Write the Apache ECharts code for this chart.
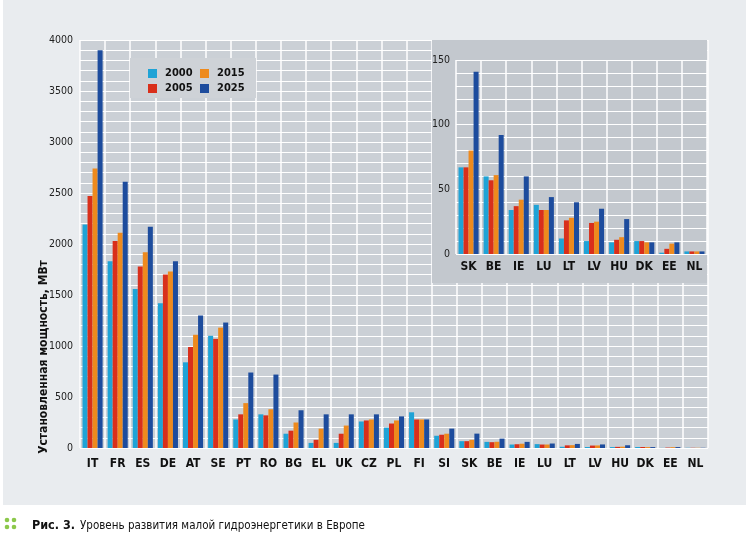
<!DOCTYPE html>
<html>
<head>
<meta charset="utf-8">
<script src="https://cdn.jsdelivr.net/npm/echarts@6/dist/echarts.min.js"></script>
<style>
  html, body { margin: 0; padding: 0; background: #fff; }
  #chart { width: 746px; height: 542px; }
</style>
</head>
<body>
<div id="chart"></div>
<script>
// страны и значения, МВт
var countries = ['IT', 'FR', 'ES', 'DE', 'AT', 'SE', 'PT', 'RO', 'BG', 'EL', 'UK', 'CZ', 'PL', 'FI', 'SI',
  'SK', 'BE', 'IE', 'LU', 'LT', 'LV', 'HU', 'DK', 'EE', 'NL']
var v2000 = [2190, 1830, 1560, 1420, 840, 1100, 280, 330, 140, 50, 50, 260, 200, 350, 120,
  67, 60, 34, 38, 12, 10, 9, 10, 1, 2]
var v2005 = [2470, 2030, 1780, 1700, 990, 1070, 330, 320, 170, 80, 140, 270, 240, 280, 130,
  67, 57, 37, 34, 26, 24, 11, 10, 4, 2]
var v2015 = [2740, 2110, 1920, 1730, 1110, 1180, 440, 380, 250, 190, 220, 280, 270, 280, 140,
  80, 61, 42, 34, 28, 25, 13, 9, 8, 2]
var v2025 = [3900, 2610, 2170, 1830, 1300, 1230, 740, 720, 370, 330, 330, 330, 310, 280, 190,
  141, 92, 60, 44, 40, 35, 27, 9, 9, 2]
var years = ['2000', '2005', '2015', '2025']
var colors = ['#1fa3d6', '#d92f1b', '#ee8a1d', '#1d4c9d']

// врезка — страны с малой мощностью
var insetFrom = 15
var insetCountries = countries.slice(insetFrom)

var cond = "'Liberation Sans Narrow', 'DejaVu Sans Condensed', sans-serif"
var chart = echarts.init(document.getElementById('chart'))

var allData = [v2000, v2005, v2015, v2025]
var series = []
allData.forEach(function (d, i) {
  series.push({
    name: years[i],
    type: 'bar',
    xAxisIndex: 0,
    yAxisIndex: 0,
    barGap: '0%',
    barCategoryGap: '20%',
    itemStyle: { color: colors[i] },
    data: d
  })
})
allData.forEach(function (d, i) {
  series.push({
    name: years[i],
    type: 'bar',
    xAxisIndex: 1,
    yAxisIndex: 1,
    z: 13,
    barGap: '0%',
    barCategoryGap: '20%',
    itemStyle: { color: colors[i] },
    data: d.slice(insetFrom)
  })
})

var legendText = { fontFamily: cond, fontWeight: 'bold', fontSize: 11, color: '#111', padding: [0, 0, 0, 3] }
var xLabel = { fontFamily: cond, fontWeight: 'bold', fontSize: 12, color: '#111', interval: 0 }

var option = {
  backgroundColor: '#e9ecef',
  animation: false,
  title: {
    left: 27,
    top: 512,
    text: '{b|Рис. 3.} {n|Уровень развития малой гидроэнергетики в Европе}',
    textStyle: {
      rich: {
        b: { fontFamily: cond, fontWeight: 'bold', fontSize: 12.5, color: '#111' },
        n: { fontFamily: cond, fontWeight: 'normal', fontSize: 11.5, color: '#111' }
      }
    }
  },
  legend: [
    {
      data: ['2000', '2005'],
      orient: 'vertical',
      left: 143,
      top: 63,
      z: 20,
      icon: 'rect',
      itemWidth: 9,
      itemHeight: 9,
      itemGap: 4,
      textStyle: legendText
    },
    {
      data: ['2015', '2025'],
      orient: 'vertical',
      left: 195,
      top: 63,
      z: 20,
      icon: 'rect',
      itemWidth: 9,
      itemHeight: 9,
      itemGap: 4,
      textStyle: legendText
    }
  ],
  grid: [
    { left: 80, top: 40, width: 628, height: 408, show: true, backgroundColor: '#cbd0d6', borderWidth: 0 },
    { left: 456, top: 60, width: 251, height: 194 }
  ],
  xAxis: [
    {
      type: 'category',
      gridIndex: 0,
      data: countries,
      axisLine: { show: false },
      axisTick: { show: false },
      axisLabel: Object.assign({ margin: 10 }, xLabel),
      splitLine: { show: true, interval: 0, lineStyle: { color: '#fff', width: 1.5 } }
    },
    {
      type: 'category',
      gridIndex: 1,
      z: 12,
      data: insetCountries,
      axisLine: { show: false },
      axisTick: { show: false },
      axisLabel: Object.assign({ margin: 7 }, xLabel),
      splitLine: { show: true, interval: 0, lineStyle: { color: '#fff', width: 1.5 } }
    }
  ],
  yAxis: [
    {
      type: 'value',
      gridIndex: 0,
      min: 0,
      max: 4000,
      interval: 100,
      axisLine: { show: false },
      axisTick: { show: false },
      axisLabel: {
        margin: 7,
        fontFamily: cond,
        fontSize: 10.5,
        color: '#222',
        formatter: function (v) { return v % 500 === 0 ? v : '' }
      },
      splitLine: { lineStyle: { color: '#fff', width: 1.2 } }
    },
    {
      type: 'value',
      gridIndex: 1,
      z: 12,
      min: 0,
      max: 150,
      interval: 10,
      axisLine: { show: false },
      axisTick: { show: false },
      axisLabel: {
        margin: 6,
        fontFamily: cond,
        fontSize: 10.5,
        color: '#222',
        formatter: function (v) { return v % 50 === 0 ? v : '' }
      },
      splitLine: { lineStyle: { color: '#fff', width: 1.2 } }
    }
  ],
  graphic: [
    // белое поле под подписью
    { type: 'rect', z: 0, shape: { x: 0, y: 505, width: 746, height: 37 }, style: { fill: '#fff' } },
    { type: 'rect', z: 0, shape: { x: 0, y: 0, width: 3, height: 505 }, style: { fill: '#fff' } },
    // фон врезки
    { type: 'rect', z: 10, shape: { x: 432, y: 40, width: 275, height: 243 }, style: { fill: '#c3c8ce' } },
    // фон легенды
    { type: 'rect', z: 15, shape: { x: 130, y: 58, width: 126, height: 40 }, style: { fill: '#ced2d7' } },
    // подпись оси Y
    {
      type: 'text',
      z: 5,
      x: 44,
      y: 357,
      rotation: Math.PI / 2,
      style: {
        text: 'Установленная мощность, МВт',
        fontFamily: cond,
        fontWeight: 'bold',
        fontSize: 12,
        fill: '#111',
        textAlign: 'center',
        textVerticalAlign: 'middle'
      }
    },
    // зелёные точки перед подписью
    { type: 'circle', shape: { cx: 7, cy: 520, r: 2.3 }, style: { fill: '#8cc84b' } },
    { type: 'circle', shape: { cx: 14, cy: 520, r: 2.3 }, style: { fill: '#8cc84b' } },
    { type: 'circle', shape: { cx: 7, cy: 527, r: 2.3 }, style: { fill: '#8cc84b' } },
    { type: 'circle', shape: { cx: 14, cy: 527, r: 2.3 }, style: { fill: '#8cc84b' } }
  ],
  series: series
}
chart.setOption(option)
</script>
</body>
</html>
